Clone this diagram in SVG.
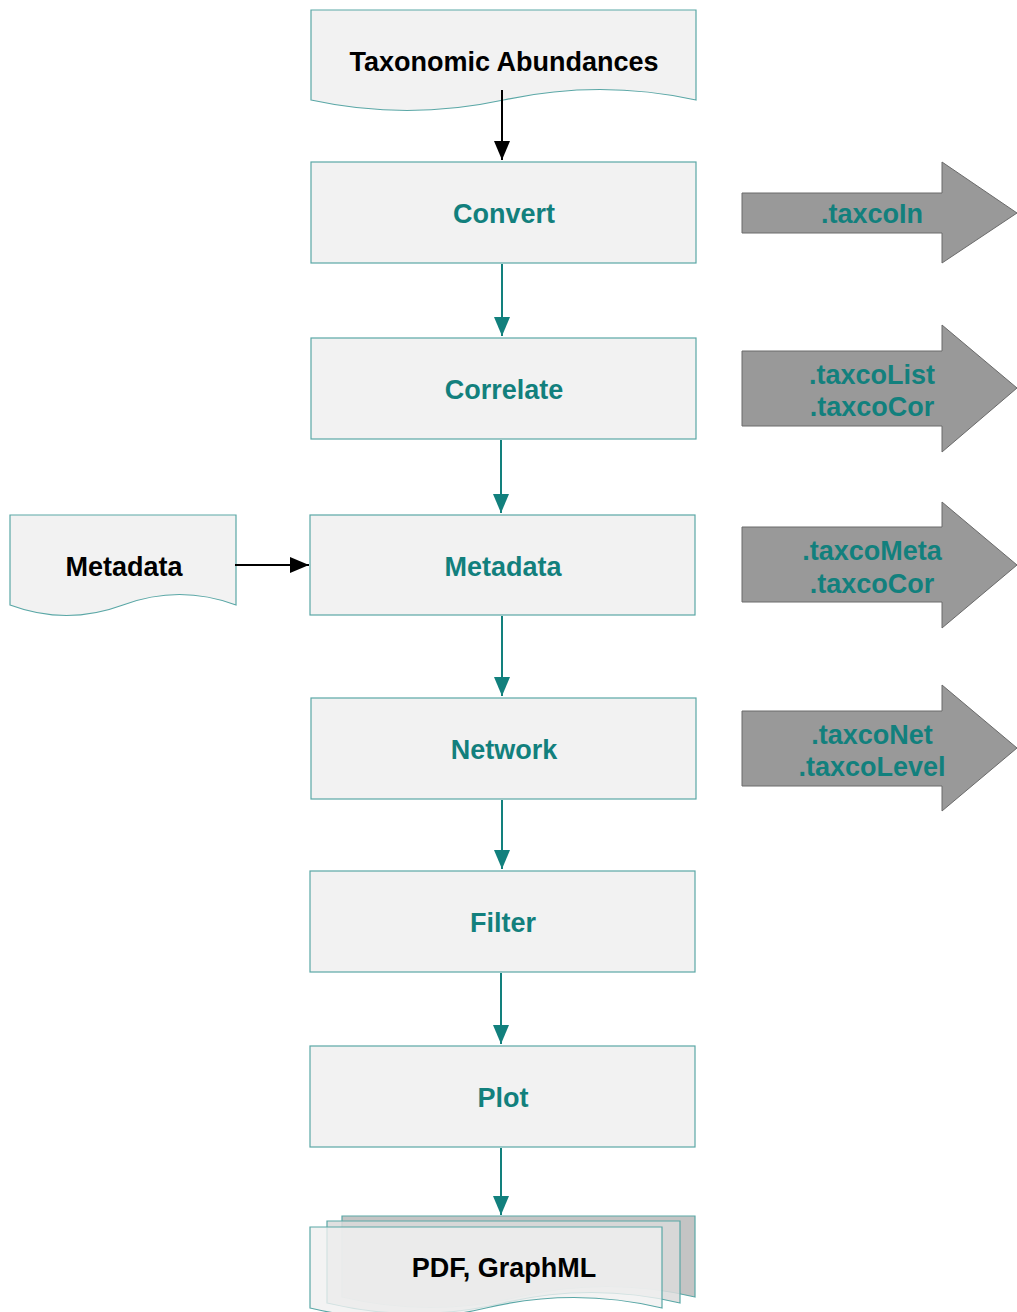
<svg xmlns="http://www.w3.org/2000/svg" width="1017" height="1312" viewBox="0 0 1017 1312">
  <style>
    .box { fill: #f2f2f2; stroke: #5aa7a6; stroke-width: 1.2; }
    .doc { fill: #f2f2f2; stroke: #5aa7a6; stroke-width: 1.2; }
    .big { fill: #999999; stroke: #6a6a6a; stroke-width: 1; }
    .lbl { font-family: "Liberation Sans", Arial, sans-serif; font-weight: bold; font-size: 27px; text-anchor: middle; }
    .teal { fill: #12807d; }
    .dark { fill: #000000; }
    .ln-teal { stroke: #12807d; stroke-width: 2; fill: none; }
    .ln-dark { stroke: #000000; stroke-width: 2; fill: none; }
  </style>
  <defs>
    <marker id="headTeal" markerUnits="userSpaceOnUse" markerWidth="19" markerHeight="16" refX="19" refY="8" orient="auto">
      <path d="M0,0 L19,8 L0,16 Z" fill="#12807d"/>
    </marker>
    <marker id="headDark" markerUnits="userSpaceOnUse" markerWidth="19" markerHeight="16" refX="19" refY="8" orient="auto">
      <path d="M0,0 L19,8 L0,16 Z" fill="#000000"/>
    </marker>
  </defs>

  <rect width="1017" height="1312" fill="#ffffff"/>

  <!-- input documents -->
  <g id="taxonomic-abundances">
    <path class="doc" d="M311,10 H696 V100 Q600,79 503.5,100 Q407,121 311,100 Z"/>
    <text class="lbl dark" x="504" y="71">Taxonomic Abundances</text>
  </g>
  <g id="metadata-doc">
    <path class="doc" d="M10,515 H236 V605 Q179.5,584 123,605 Q66.5,626 10,605 Z"/>
    <text class="lbl dark" x="124" y="576">Metadata</text>
  </g>

  <!-- processing steps -->
  <g id="convert">
    <rect class="box" x="311" y="162" width="385" height="101"/>
    <text class="lbl teal" x="504" y="223">Convert</text>
  </g>
  <g id="correlate">
    <rect class="box" x="311" y="338" width="385" height="101"/>
    <text class="lbl teal" x="504" y="399">Correlate</text>
  </g>
  <g id="metadata">
    <rect class="box" x="310" y="515" width="385" height="100"/>
    <text class="lbl teal" x="503" y="576">Metadata</text>
  </g>
  <g id="network">
    <rect class="box" x="311" y="698" width="385" height="101"/>
    <text class="lbl teal" x="504" y="759">Network</text>
  </g>
  <g id="filter">
    <rect class="box" x="310" y="871" width="385" height="101"/>
    <text class="lbl teal" x="503" y="932">Filter</text>
  </g>
  <g id="plot">
    <rect class="box" x="310" y="1046" width="385" height="101"/>
    <text class="lbl teal" x="503" y="1107">Plot</text>
  </g>

  <!-- output stack -->
  <g id="output">
    <path d="M342,1216 H695 V1297 Q607,1276 518,1297 Q430,1318 342,1297 Z" fill="#c4c4c4" stroke="#5aa7a6" stroke-width="1.2"/>
    <path d="M327,1221 H680 V1303 Q592,1282 503,1303 Q415,1324 327,1303 Z" fill="#dadada" fill-opacity="0.85" stroke="#5aa7a6" stroke-width="1.2"/>
    <path d="M310,1227 H662 V1308 Q574,1287 486,1308 Q398,1329 310,1308 Z" fill="#f0f0f0" fill-opacity="0.8" stroke="#5aa7a6" stroke-width="1.2"/>
    <text class="lbl dark" x="504" y="1277">PDF, GraphML</text>
  </g>

  <!-- produced objects -->
  <g id="obj-convert">
    <path class="big" d="M742,193 H942 V162 L1017,213 L942,263 V233 H742 Z"/>
    <text class="lbl teal" x="872" y="223">.taxcoIn</text>
  </g>
  <g id="obj-correlate">
    <path class="big" d="M742,351 H942 V325 L1017,388 L942,452 V426 H742 Z"/>
    <text class="lbl teal" x="872" y="384">.taxcoList</text>
    <text class="lbl teal" x="872" y="416">.taxcoCor</text>
  </g>
  <g id="obj-metadata">
    <path class="big" d="M742,527 H942 V502 L1017,565 L942,628 V602 H742 Z"/>
    <text class="lbl teal" x="872" y="560">.taxcoMeta</text>
    <text class="lbl teal" x="872" y="593">.taxcoCor</text>
  </g>
  <g id="obj-network">
    <path class="big" d="M742,711 H942 V685 L1017,748 L942,811 V786 H742 Z"/>
    <text class="lbl teal" x="872" y="744">.taxcoNet</text>
    <text class="lbl teal" x="872" y="776">.taxcoLevel</text>
  </g>

  <!-- connectors -->
  <g id="connectors">
    <path class="ln-dark" d="M502,90 V160" marker-end="url(#headDark)"/>
    <path class="ln-dark" d="M235,565 H309" marker-end="url(#headDark)"/>
    <path class="ln-teal" d="M502,264 V336" marker-end="url(#headTeal)"/>
    <path class="ln-teal" d="M501,440 V513" marker-end="url(#headTeal)"/>
    <path class="ln-teal" d="M502,616 V696" marker-end="url(#headTeal)"/>
    <path class="ln-teal" d="M502,800 V869" marker-end="url(#headTeal)"/>
    <path class="ln-teal" d="M501,973 V1044" marker-end="url(#headTeal)"/>
    <path class="ln-teal" d="M501,1148 V1215" marker-end="url(#headTeal)"/>
  </g>
</svg>
